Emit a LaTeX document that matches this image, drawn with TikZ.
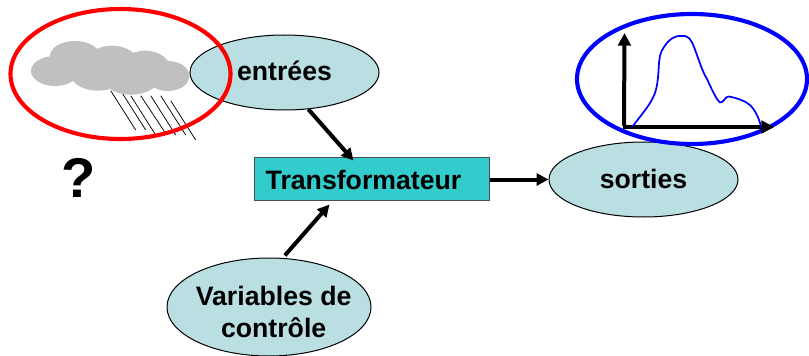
\documentclass[tikz,border=0pt]{standalone}
\usepackage{fontspec}
\setmainfont{Liberation Sans}
\usetikzlibrary{shapes.geometric,arrows.meta}
\definecolor{paleteal}{HTML}{B9DFE2}
\definecolor{boxteal}{HTML}{33CCCC}
\definecolor{cloudgrey}{HTML}{C0C0C0}
\tikzset{
  x=0.75pt,y=-0.75pt,
  oval/.style={ellipse,draw=black,line width=0.75pt,fill=paleteal,inner sep=0pt,align=center,
    font=\fontsize{20}{24}\selectfont\bfseries},
  ring/.style={ellipse,inner sep=0pt,line width=3.1pt},
  puff/.style={ellipse,fill=cloudgrey,inner sep=0pt},
  box/.style={rectangle,draw=black!70,line width=0.75pt,fill=boxteal,inner sep=0pt,
    font=\fontsize{20}{24}\selectfont\bfseries},
  link/.style={line width=3pt,-{Triangle[length=9pt,width=9pt]}},
  axis/.style={line width=3pt,-{Triangle[length=9.5pt,width=9.5pt]}},
  rain/.style={line width=0.55pt,draw=black},
}
\begin{document}
\begin{tikzpicture}
\useasboundingbox (0,0) rectangle (809,356);
% rain
\foreach \xa/\ya/\xb/\yb in {110.7/90.7/135.7/130, 120.7/90.7/145.7/130, 130.7/95.7/155.7/135, 140.7/95.7/165.7/133.5, 150.7/95.7/175.7/135, 160.7/95.7/185.7/135, 170.7/100.7/195.7/140}
  \draw[rain] (\xa,\ya) -- (\xb,\yb);
% cloud
\node[puff,minimum width=36pt,minimum height=22.5pt] (c1) at (55,71) {};
\node[puff,minimum width=37.5pt,minimum height=22.5pt] (c2) at (75,56) {};
\node[puff,minimum width=41pt,minimum height=29pt] (c3) at (112,65) {};
\node[puff,minimum width=39pt,minimum height=29pt] (c4) at (145,70) {};
\node[puff,minimum width=40pt,minimum height=23.5pt] (c5) at (98,75) {};
\node[puff,minimum width=37.5pt,minimum height=19pt] (c6) at (131,82) {};
\node[puff,minimum width=32pt,minimum height=22.5pt] (c7) at (168,76) {};
% main nodes
\node[oval,minimum width=141.75pt,minimum height=56.25pt] (entrees) at (284.5,72.5) {\raisebox{-6.15pt}[0pt][0pt]{entrées}};
\node[oval,minimum width=141.75pt,minimum height=56.25pt] (sorties) at (643.5,179.5) {\raisebox{-6.6pt}[0pt][0pt]{sorties}};
\node[oval,minimum width=153pt,minimum height=73.5pt] (vars) at (269,307)
  {\makebox[0pt]{\hspace{7pt}\smash{\raisebox{-11pt}{Variables de}}}\\\makebox[0pt]{\hspace{7pt}\smash{\raisebox{-11pt}{contrôle}}}};
\node[box,minimum width=176.25pt,minimum height=32.25pt] (tr) at (371.5,178.5) {\raisebox{-7.9pt}[0pt][0pt]{Transformateur}\rule{12pt}{0pt}};
% connectors
\draw[link] (entrees.-57) -- ([xshift=75pt,yshift=-3pt]tr.north west);
\draw[link] ([yshift=2pt]vars.72) -- ([xshift=57pt,yshift=-3pt]tr.south west);
\draw[link] (tr.east |- sorties.west) -- (sorties.west);
% highlight rings
\node[ring,draw=red,minimum width=165pt,minimum height=97.5pt] (redring) at (120.5,74) {};
\node[ring,draw=blue,minimum width=172.5pt,minimum height=97.5pt] (bluering) at (692,79) {};
% plot
\coordinate (o) at (624,127);
\coordinate (ytip) at (624.5,33);
\coordinate (xtip) at (774,127);
\draw[axis] ([yshift=1.1pt]o) -- (ytip);
\draw[axis] ([xshift=-1.1pt]o) -- (xtip);
\draw[blue,line width=1.3pt] (632.5,126.5) .. controls (642,114) and (651,104) .. (655,93)
  .. controls (661,74) and (656,57) .. (664,47)
  .. controls (669,39) and (676,35) .. (681,36)
  .. controls (689,35) and (691,40) .. (694,47)
  .. controls (699,60) and (702,71) .. (707,79)
  .. controls (712,90) and (716,99) .. (720,102.5)
  .. controls (724,103) and (725,96) .. (729,96.5)
  .. controls (736,98) and (744,100) .. (750,105)
  .. controls (755,110) and (759,118) .. (761,126.5);
% question mark
\node[font=\fontsize{42}{48}\selectfont\bfseries,inner sep=0pt] (q) at (79,178) {?};
\end{tikzpicture}
\end{document}
